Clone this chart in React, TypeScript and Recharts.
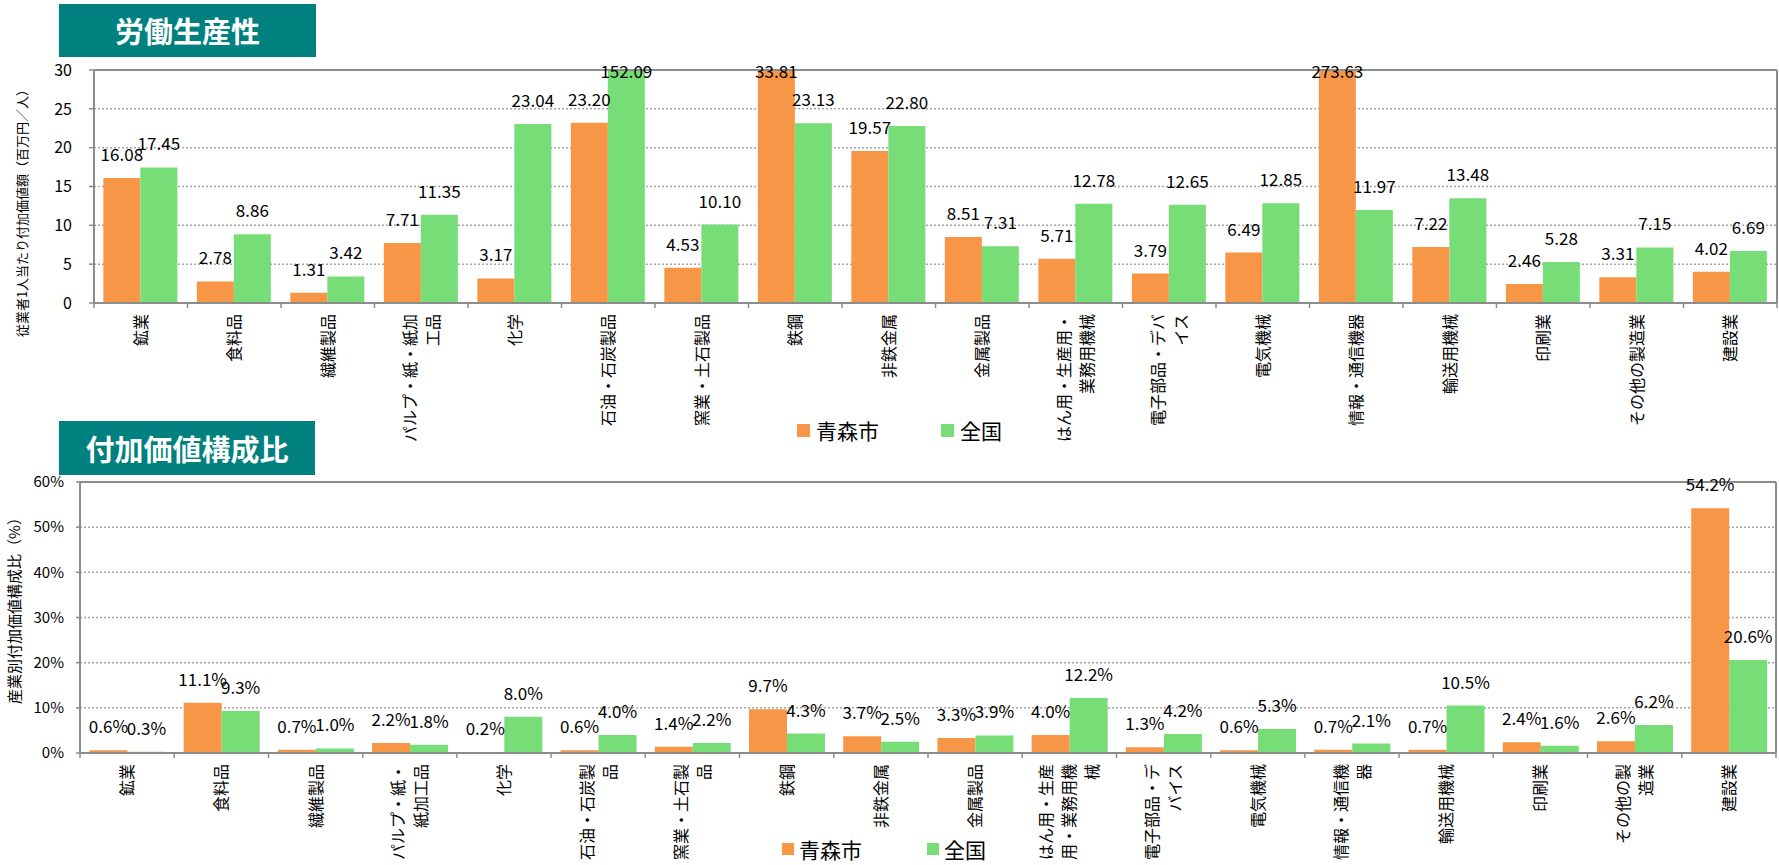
import React from 'react';
import { BarChart, Bar, XAxis, YAxis, CartesianGrid, LabelList, Legend, ReferenceLine } from 'recharts';

// ---------- data ----------
const categories = [
  '鉱業', '食料品', '繊維製品', 'パルプ・紙・紙加工品', '化学', '石油・石炭製品', '窯業・土石製品', '鉄鋼', '非鉄金属',
  '金属製品', 'はん用・生産用・業務用機械', '電子部品・デバイス', '電気機械', '情報・通信機器', '輸送用機械', '印刷業',
  'その他の製造業', '建設業',
];
const topTickLines = [
  ['鉱業'], ['食料品'], ['繊維製品'], ['パルプ・紙・紙加', '工品'], ['化学'], ['石油・石炭製品'], ['窯業・土石製品'],
  ['鉄鋼'], ['非鉄金属'], ['金属製品'], ['はん用・生産用・', '業務用機械'], ['電子部品・デバ', 'イス'], ['電気機械'],
  ['情報・通信機器'], ['輸送用機械'], ['印刷業'], ['その他の製造業'], ['建設業'],
];
const bottomTickLines = [
  ['鉱業'], ['食料品'], ['繊維製品'], ['パルプ・紙・', '紙加工品'], ['化学'], ['石油・石炭製', '品'], ['窯業・土石製', '品'],
  ['鉄鋼'], ['非鉄金属'], ['金属製品'], ['はん用・生産', '用・業務用機', '械'], ['電子部品・デ', 'バイス'], ['電気機械'],
  ['情報・通信機', '器'], ['輸送用機械'], ['印刷業'], ['その他の製', '造業'], ['建設業'],
];
const aomoriProductivity = [16.08, 2.78, 1.31, 7.71, 3.17, 23.2, 4.53, 33.81, 19.57, 8.51, 5.71, 3.79, 6.49, 273.63, 7.22, 2.46, 3.31, 4.02];
const nationalProductivity = [17.45, 8.86, 3.42, 11.35, 23.04, 152.09, 10.1, 23.13, 22.8, 7.31, 12.78, 12.65, 12.85, 11.97, 13.48, 5.28, 7.15, 6.69];
const aomoriShare = [0.6, 11.1, 0.7, 2.2, 0.2, 0.6, 1.4, 9.7, 3.7, 3.3, 4.0, 1.3, 0.6, 0.7, 0.7, 2.4, 2.6, 54.2];
const nationalShare = [0.3, 9.3, 1.0, 1.8, 8.0, 4.0, 2.2, 4.3, 2.5, 3.9, 12.2, 4.2, 5.3, 2.1, 10.5, 1.6, 6.2, 20.6];
const productivityTicks = [0, 5, 10, 15, 20, 25, 30];
const shareTicks = [0, 10, 20, 30, 40, 50, 60];
const seriesNames = ['青森市', '全国'];
const titles = ['労働生産性', '付加価値構成比'];
const yTitles = ['従業者1人当たり付加価値額（百万円／人）', '産業別付加価値構成比（%）'];

const topData = categories.map((c, i) => ({ name: c, a: aomoriProductivity[i], n: nationalProductivity[i] }));
const bottomData = categories.map((c, i) => ({ name: c, a: aomoriShare[i], n: nationalShare[i] }));

// ---------- style ----------
const W = 1779;
const ORANGE = '#F79646';
const GREEN = '#77DD77';
const AXIS = '#8C8C8C';
const GRID = '#A6A6A6';
const TEAL = '#00807F';
const FONT = '"Noto Sans CJK JP", "Noto Sans", sans-serif';

const TOP_H = 445;
const TOP_M = { top: 70, right: 2, left: 0, bottom: 0 };
const TOP_YW = 94;
const TOP_XH = TOP_H - 303;
const TOP_BAND = (W - TOP_M.right - TOP_YW) / categories.length;

const BOT_TOP = 400;
const BOT_H = 465;
const BOT_M = { top: 82, right: 3, left: 0, bottom: 0 };
const BOT_YW = 80;
const BOT_XH = 112;
const BOT_BAND = (W - BOT_M.right - BOT_YW) / categories.length;

function CategoryTick(props: any) {
  const { x, y, payload, lines, band } = props;
  const idx = categories.indexOf(payload.value);
  const ls: string[] = lines[idx] || [String(payload.value)];
  const n = ls.length;
  const last = idx === categories.length - 1;
  return (
    <g>
      <line x1={x - band / 2} y1={y} x2={x - band / 2} y2={y + 5} stroke={AXIS} strokeWidth={1.5} />
      {last && <line x1={x + band / 2} y1={y} x2={x + band / 2} y2={y + 5} stroke={AXIS} strokeWidth={1.5} />}
      <g transform={`translate(${x},${y + 11}) rotate(-90)`}>
        {ls.map((t, i) => (
          <text key={i} x={0} y={(i - (n - 1) / 2) * 23 + 6} textAnchor="end" fontSize={16} fill="#000">
            {t}
          </text>
        ))}
      </g>
    </g>
  );
}

function makeValueLabel(fmt: (v: number) => string, plotTop: number) {
  return (props: any) => {
    const { x, y, width, value } = props;
    const cx = Number(x) + Number(width) / 2;
    let by = Number(y) - 17;
    if (Number(y) < plotTop) by = plotTop + 8;
    return (
      <text x={cx} y={by} textAnchor="middle" fontSize={17} fill="#000">
        {fmt(Number(value))}
      </text>
    );
  };
}

function YTitle(props: any) {
  const { px, py, text, size } = props;
  return (
    <text x={px} y={py} transform={`rotate(-90 ${px} ${py})`} textAnchor="middle" dominantBaseline="central" fontSize={size} fill="#000">
      {text}
    </text>
  );
}

function makeLegend(sq: number, gap: number, between: number) {
  return (props: any) => {
    const payload = [...(props.payload || [])].sort(
      (p: any, q: any) => seriesNames.indexOf(p.value) - seriesNames.indexOf(q.value),
    );
    return (
      <div style={{ display: 'flex', alignItems: 'center', fontFamily: FONT, whiteSpace: 'nowrap' }}>
        {payload.map((p: any, i: number) => (
          <div key={i} style={{ display: 'flex', alignItems: 'center', marginRight: i === 0 ? between : 0 }}>
            <span style={{ width: sq, height: sq, background: p.color, display: 'inline-block', marginRight: gap }} />
            <span style={{ fontSize: 21, lineHeight: '24px', color: '#000' }}>{p.value}</span>
          </div>
        ))}
      </div>
    );
  };
}

function TitleBox({ text, left, top, width, height }: any) {
  return (
    <div
      style={{
        position: 'absolute', left, top, width, height, background: TEAL, color: '#fff', fontFamily: FONT,
        fontWeight: 700, fontSize: 29, display: 'flex', alignItems: 'center', justifyContent: 'center', lineHeight: 1,
      }}
    >
      {text}
    </div>
  );
}

export default function App() {
  return (
    <div style={{ position: 'absolute', left: 0, top: 0, width: W, height: 865, background: '#fff', fontFamily: FONT, overflow: 'hidden' }}>
      <div style={{ position: 'absolute', left: 0, top: 0 }}>
        <BarChart width={W} height={TOP_H} data={topData} margin={TOP_M} barCategoryGap="10%" barGap={0}>
          <CartesianGrid vertical={false} stroke={GRID} strokeDasharray="2 2" strokeWidth={1.5} />
          <CartesianGrid
            horizontal={false}
            stroke={AXIS}
            strokeWidth={2}
            verticalCoordinatesGenerator={(p: any) => [p.offset.left + p.offset.width]}
          />
          <ReferenceLine y={30} stroke={AXIS} strokeWidth={2} />
          <XAxis
            dataKey="name"
            height={TOP_XH}
            interval={0}
            tickSize={0}
            tickMargin={0}
            tickLine={false}
            axisLine={{ stroke: AXIS, strokeWidth: 2 }}
            tick={<CategoryTick lines={topTickLines} band={TOP_BAND} />}
          />
          <YAxis
            width={TOP_YW}
            domain={[0, 30]}
            ticks={productivityTicks}
            allowDataOverflow
            tickSize={5}
            tickMargin={17}
            tick={{ fontSize: 16, fill: '#000' }}
            tickLine={{ stroke: AXIS, strokeWidth: 1.5 }}
            axisLine={{ stroke: AXIS, strokeWidth: 2 }}
            label={<YTitle px={21} py={210} text={yTitles[0]} size={13} />}
          />
          <Legend
            layout="vertical"
            align="center"
            verticalAlign="middle"
            content={makeLegend(13, 6, 62)}
            wrapperStyle={{ position: 'absolute', left: 797, top: 418, width: 'auto', height: 'auto' }}
          />
          <Bar dataKey="a" name={seriesNames[0]} fill={ORANGE} isAnimationActive={false}>
            <LabelList dataKey="a" content={makeValueLabel((v) => v.toFixed(2), TOP_M.top)} />
          </Bar>
          <Bar dataKey="n" name={seriesNames[1]} fill={GREEN} isAnimationActive={false}>
            <LabelList dataKey="n" content={makeValueLabel((v) => v.toFixed(2), TOP_M.top)} />
          </Bar>
        </BarChart>
      </div>

      <div style={{ position: 'absolute', left: 0, top: BOT_TOP }}>
        <BarChart width={W} height={BOT_H} data={bottomData} margin={BOT_M} barCategoryGap="10%" barGap={0}>
          <CartesianGrid vertical={false} stroke={GRID} strokeDasharray="2 2" strokeWidth={1.5} />
          <CartesianGrid
            horizontal={false}
            stroke={AXIS}
            strokeWidth={2}
            verticalCoordinatesGenerator={(p: any) => [p.offset.left + p.offset.width]}
          />
          <ReferenceLine y={60} stroke={AXIS} strokeWidth={2} />
          <XAxis
            dataKey="name"
            height={BOT_XH}
            interval={0}
            tickSize={0}
            tickMargin={0}
            tickLine={false}
            axisLine={{ stroke: AXIS, strokeWidth: 2 }}
            tick={<CategoryTick lines={bottomTickLines} band={BOT_BAND} />}
          />
          <YAxis
            width={BOT_YW}
            domain={[0, 60]}
            ticks={shareTicks}
            tickFormatter={(v: number) => `${v}%`}
            tickSize={4}
            tickMargin={12}
            tick={{ fontSize: 15, fill: '#000' }}
            tickLine={{ stroke: AXIS, strokeWidth: 1.5 }}
            axisLine={{ stroke: AXIS, strokeWidth: 2 }}
            label={<YTitle px={13} py={207} text={yTitles[1]} size={15} />}
          />
          <Legend
            layout="vertical"
            align="center"
            verticalAlign="middle"
            content={makeLegend(12, 5, 65)}
            wrapperStyle={{ position: 'absolute', left: 782, top: 437, width: 'auto', height: 'auto' }}
          />
          <Bar dataKey="a" name={seriesNames[0]} fill={ORANGE} isAnimationActive={false}>
            <LabelList dataKey="a" content={makeValueLabel((v) => `${v.toFixed(1)}%`, BOT_M.top)} />
          </Bar>
          <Bar dataKey="n" name={seriesNames[1]} fill={GREEN} isAnimationActive={false}>
            <LabelList dataKey="n" content={makeValueLabel((v) => `${v.toFixed(1)}%`, BOT_M.top)} />
          </Bar>
        </BarChart>
      </div>

      <TitleBox text={titles[0]} left={59} top={4} width={257} height={53} />
      <TitleBox text={titles[1]} left={59} top={421} width={256} height={54} />
    </div>
  );
}
